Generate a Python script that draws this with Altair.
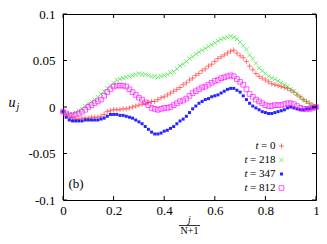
import altair as alt
import pandas as pd

# ---------------- data ----------------
N = 79
xj = [j / (N + 1) for j in range(N + 2)]

times = ["0", "218", "347", "812"]

u_t0 = [-0.005, -0.008, -0.011, -0.012, -0.013, -0.013, -0.012, -0.012, -0.012, -0.011,
        -0.011, -0.011, -0.010, -0.008, -0.005, -0.004, -0.003, -0.003, -0.003, -0.002,
        -0.002, -0.001, 0.000, 0.001, 0.002, 0.003, 0.004, 0.005, 0.006, 0.006,
        0.008, 0.010, 0.011, 0.013, 0.015, 0.017, 0.019, 0.021, 0.024, 0.026,
        0.029, 0.031, 0.034, 0.036, 0.039, 0.041, 0.044, 0.046, 0.049, 0.052,
        0.054, 0.056, 0.058, 0.060, 0.061, 0.058, 0.055, 0.053, 0.049, 0.044,
        0.040, 0.036, 0.033, 0.031, 0.029, 0.027, 0.025, 0.024, 0.023, 0.022,
        0.021, 0.020, 0.018, 0.016, 0.013, 0.011, 0.008, 0.006, 0.004, 0.002, 0.000]

u_t218 = [-0.005, -0.007, -0.008, -0.008, -0.006, -0.004, -0.002, 0.001, 0.003, 0.006,
          0.008, 0.011, 0.014, 0.017, 0.020, 0.023, 0.026, 0.029, 0.030, 0.031,
          0.032, 0.033, 0.034, 0.035, 0.036, 0.035, 0.035, 0.034, 0.033, 0.033,
          0.032, 0.033, 0.034, 0.035, 0.037, 0.038, 0.041, 0.044, 0.046, 0.049,
          0.052, 0.054, 0.057, 0.059, 0.061, 0.063, 0.065, 0.067, 0.069, 0.071,
          0.073, 0.074, 0.075, 0.076, 0.075, 0.073, 0.070, 0.066, 0.062, 0.056,
          0.052, 0.047, 0.042, 0.039, 0.036, 0.033, 0.031, 0.030, 0.028, 0.026,
          0.024, 0.022, 0.019, 0.017, 0.014, 0.010, 0.008, 0.005, 0.003, 0.001, 0.000]

u_t347 = [-0.005, -0.011, -0.014, -0.015, -0.015, -0.015, -0.015, -0.014, -0.014, -0.014,
          -0.014, -0.014, -0.013, -0.012, -0.010, -0.008, -0.008, -0.008, -0.009, -0.009,
          -0.010, -0.011, -0.012, -0.014, -0.016, -0.018, -0.021, -0.024, -0.027, -0.029,
          -0.029, -0.028, -0.026, -0.025, -0.023, -0.021, -0.018, -0.015, -0.013, -0.010,
          -0.006, -0.002, 0.001, 0.004, 0.006, 0.008, 0.009, 0.011, 0.012, 0.013,
          0.015, 0.017, 0.019, 0.020, 0.020, 0.018, 0.016, 0.012, 0.008, 0.004,
          0.001, -0.001, -0.003, -0.005, -0.006, -0.007, -0.007, -0.006, -0.005, -0.004,
          -0.003, -0.001, 0.000, -0.001, -0.002, -0.003, -0.003, -0.002, -0.002, -0.001, 0.000]

u_t812 = [-0.005, -0.007, -0.009, -0.009, -0.008, -0.007, -0.005, -0.003, 0.000, 0.002,
          0.004, 0.006, 0.008, 0.012, 0.016, 0.019, 0.022, 0.023, 0.023, 0.023,
          0.022, 0.019, 0.016, 0.013, 0.010, 0.008, 0.005, 0.002, -0.001, -0.002,
          -0.003, -0.002, -0.001, -0.001, 0.000, 0.002, 0.004, 0.006, 0.007, 0.009,
          0.012, 0.015, 0.017, 0.019, 0.021, 0.022, 0.024, 0.026, 0.028, 0.029,
          0.031, 0.032, 0.033, 0.034, 0.033, 0.030, 0.027, 0.024, 0.019, 0.014,
          0.011, 0.008, 0.006, 0.004, 0.002, 0.001, 0.001, 0.002, 0.002, 0.002,
          0.003, 0.004, 0.004, 0.003, 0.001, -0.001, -0.002, -0.002, -0.002, -0.001, 0.000]

series_values = [u_t0, u_t218, u_t347, u_t812]

x_ticks = [0, 0.2, 0.4, 0.6, 0.8, 1]
y_ticks = [-0.1, -0.05, 0, 0.05, 0.1]

# ---------------- style ----------------
W, H = 253, 186
FONT = "Liberation Serif"
colors = ["#ff0000", "#00e000", "#0000ff", "#ff00ff"]
PLUS = "M-1,0L1,0M0,-1L0,1"
CROSS = "M-1,-1L1,1M-1,1L1,-1"
marker_specs = [
    dict(shape=PLUS, size=28, filled=False, strokeWidth=0.7, opacity=0.75),
    dict(shape=CROSS, size=18, filled=False, strokeWidth=0.7, opacity=0.75),
    dict(shape="square", size=9, filled=True, strokeWidth=0.5, opacity=0.85),
    dict(shape="square", size=22, filled=False, strokeWidth=0.8, opacity=0.8),
]

xscale = alt.Scale(domain=[0, 1], nice=False, zero=False)
yscale = alt.Scale(domain=[-0.1, 0.1], nice=False, zero=False)
lab = "replace(format(datum.value, '~g'), '\u2212', '-')"

xaxis = alt.Axis(values=x_ticks, labelExpr=lab, grid=False, ticks=False, tickSize=0,
                 domain=False, labelPadding=4, labelFont=FONT, labelFontSize=13,
                 labelColor="black", title=None, labelFlush=False, labelOverlap=False)
yaxis = alt.Axis(values=y_ticks, labelExpr=lab, grid=False, ticks=False, tickSize=0,
                 domain=False, labelPadding=8, labelFont=FONT, labelFontSize=13,
                 labelColor="black", title=None, labelFlush=False, labelOverlap=False)

layers = []
for k, (t, vals) in enumerate(zip(times, series_values)):
    df = pd.DataFrame({"x": xj, "u": vals})
    spec = marker_specs[k]
    m = alt.Chart(df).mark_point(
        shape=spec["shape"], size=spec["size"], filled=spec["filled"],
        color=colors[k], strokeWidth=spec["strokeWidth"], opacity=spec["opacity"],
    ).encode(
        x=alt.X("x:Q", scale=xscale, axis=xaxis),
        y=alt.Y("u:Q", scale=yscale, axis=yaxis),
    )
    layers.append(m)

# inward ticks (mirrored on all four sides)
TL = 4
dfx = pd.DataFrame({"x": x_ticks})
dfy = pd.DataFrame({"u": y_ticks})
tick_layers = [
    alt.Chart(dfx).mark_rule(color="black", strokeWidth=1).encode(
        x=alt.X("x:Q", scale=xscale, axis=xaxis), y=alt.value(H - TL), y2=alt.value(H)),
    alt.Chart(dfx).mark_rule(color="black", strokeWidth=1).encode(
        x=alt.X("x:Q", scale=xscale, axis=xaxis), y=alt.value(0), y2=alt.value(TL)),
    alt.Chart(dfy).mark_rule(color="black", strokeWidth=1).encode(
        y=alt.Y("u:Q", scale=yscale, axis=yaxis), x=alt.value(0), x2=alt.value(TL)),
    alt.Chart(dfy).mark_rule(color="black", strokeWidth=1).encode(
        y=alt.Y("u:Q", scale=yscale, axis=yaxis), x=alt.value(W - TL), x2=alt.value(W)),
]

one = pd.DataFrame({"a": [0]})

def text(s, x, y, size=13, italic=False, align="center", baseline="middle"):
    return alt.Chart(one).mark_text(
        font=FONT, fontSize=size, fontStyle="italic" if italic else "normal",
        align=align, baseline=baseline, color="black",
    ).encode(x=alt.value(x), y=alt.value(y), text=alt.value(s))

# legend (label left, symbol right, as in gnuplot)
leg_layers = []
row_y = [132, 146, 160, 174]
LX_TEXT = 212.5
LX_SYM = 218.5
for k, t in enumerate(times):
    num_part = "= " + t
    leg_layers.append(text(num_part, LX_TEXT, row_y[k], size=11, align="right"))
    w = 6.2 + 2.8 + 5.5 * len(t)
    leg_layers.append(text("t", LX_TEXT - w - 2.5, row_y[k], size=11, italic=True, align="right"))
    spec = marker_specs[k]
    leg_layers.append(
        alt.Chart(one).mark_point(
            shape=spec["shape"], size=spec["size"], filled=spec["filled"],
            color=colors[k], strokeWidth=spec["strokeWidth"], opacity=spec["opacity"],
        ).encode(x=alt.value(LX_SYM), y=alt.value(row_y[k]))
    )

# panel tag, axis titles
other = [
    text("(b)", 13, 170, size=13),
    text("u", -51, 89, size=14, italic=True),
    text("j", -45, 93, size=10, italic=True),
    text("j", W / 2, 205.5, size=10, italic=True),
    alt.Chart(one).mark_rule(color="black", strokeWidth=0.8).encode(
        x=alt.value(W / 2 - 10.5), x2=alt.value(W / 2 + 10.5), y=alt.value(211.5)),
    text("N+1", W / 2, 217, size=10),
]

chart = alt.layer(*layers, *tick_layers, *leg_layers, *other).properties(
    width=W, height=H,
    autosize=alt.AutoSizeParams(type="none"),
    padding={"left": 55, "top": 6, "right": 3, "bottom": 36},
).configure_view(stroke="black", strokeWidth=1)

chart.save("out.html", embed_options={"renderer": "svg", "actions": False})
